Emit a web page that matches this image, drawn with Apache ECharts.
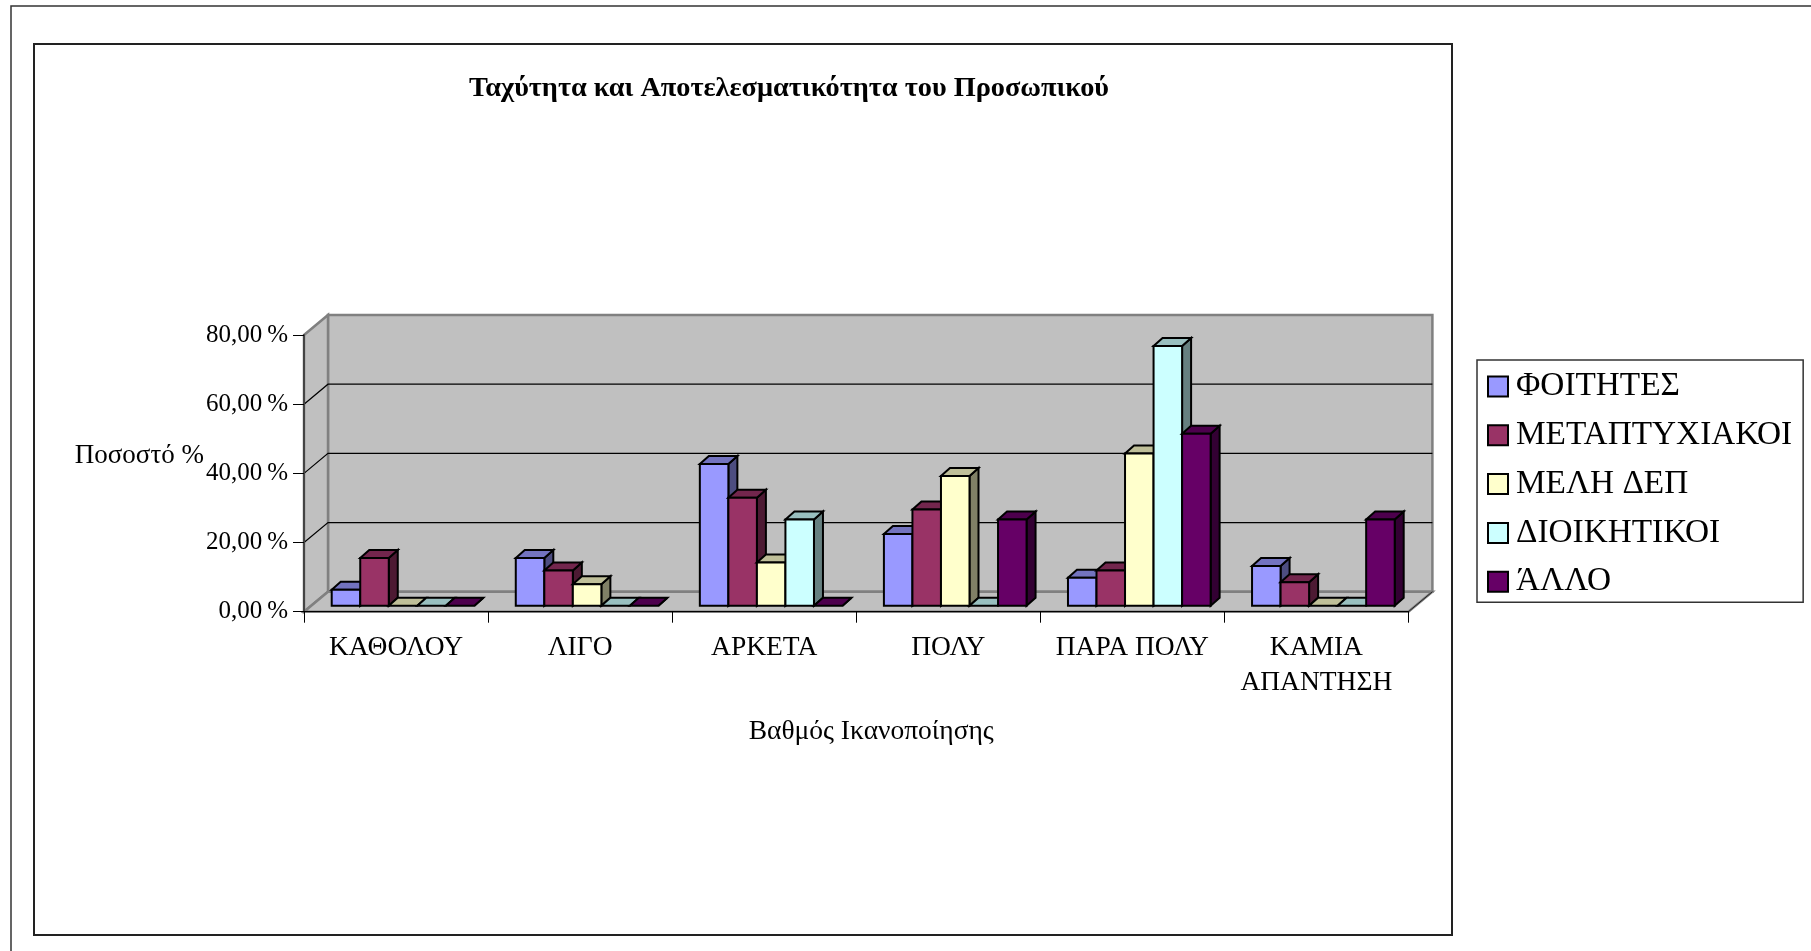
<!DOCTYPE html>
<html><head><meta charset="utf-8">
<style>html,body{margin:0;padding:0;background:#fff;overflow:hidden}#c{width:1811px;height:951px}</style>
<script src="https://cdn.jsdelivr.net/npm/echarts@6/dist/echarts.min.js"></script>
</head><body><div id="c"></div>
<script>
const chartTitle = 'Ταχύτητα και Αποτελεσματικότητα του Προσωπικού';
const yAxisTitle = 'Ποσοστό %';
const xAxisTitle = 'Βαθμός Ικανοποίησης';
const categories = ['ΚΑΘΟΛΟΥ','ΛΙΓΟ','ΑΡΚΕΤΑ','ΠΟΛΥ','ΠΑΡΑ ΠΟΛΥ','ΚΑΜΙΑ\nΑΠΑΝΤΗΣΗ'];
const yTicks = [0,20,40,60,80];
const yTickLabels = {0:'0,00\u2009%',20:'20,00\u2009%',40:'40,00\u2009%',60:'60,00\u2009%',80:'80,00\u2009%'};
const foitites = [4.6,13.8,41.0,20.7,8.1,11.5];
const metaptyxiakoi = [13.8,10.2,31.2,27.8,10.2,6.8];
const melhDep = [0,6.2,12.5,37.5,44.0,0];
const dioikitikoi = [0,0,24.9,0,75.1,0];
const allo = [0,0,0,24.9,49.7,24.9];
const seriesNames = ['ΦΟΙΤΗΤΕΣ','ΜΕΤΑΠΤΥΧΙΑΚΟΙ','ΜΕΛΗ ΔΕΠ','ΔΙΟΙΚΗΤΙΚΟΙ','ΆΛΛΟ'];
const seriesValues = [foitites,metaptyxiakoi,melhDep,dioikitikoi,allo];
const frontColors = ['#9999FF','#993366','#FFFFCC','#CCFFFF','#660066'];
const topColors = ['#7373BF','#73264D','#BFBF99','#99BFBF','#4D004D'];
const sideColors = ['#4D4D80','#4D1A33','#808066','#668080','#330033'];

const FONT = '"Liberation Serif", serif';
const DEPTH_X = 24, DEPTH_Y = 20;
const BAR_DEPTH_X = 9, BAR_DEPTH_Y = 8, BAR_FRONT_X = 7, BAR_FRONT_Y = 6, BAR_RATIO = 0.155;

function renderWall(params, api){
  const v = api.value(1);
  const a = api.coord([0, v]);
  const halfCat = api.size([1,0])[0] / 2;
  const left = a[0] - halfCat;
  const right = left + halfCat * 2 * categories.length;
  const children = [];
  const wallFill = '#C0C0C0', edge = '#808080';
  if (v === yTicks[0]) {
    const y0 = a[1];
    const yTop = api.coord([0, yTicks[yTicks.length-1]])[1];
    children.push({type:'polygon',shape:{points:[[left+DEPTH_X,yTop-DEPTH_Y],[right+DEPTH_X,yTop-DEPTH_Y],[right+DEPTH_X,y0-DEPTH_Y],[left+DEPTH_X,y0-DEPTH_Y]]},style:{fill:wallFill,stroke:edge,lineWidth:2.5}});
    children.push({type:'polygon',shape:{points:[[left,yTop],[left+DEPTH_X,yTop-DEPTH_Y],[left+DEPTH_X,y0-DEPTH_Y],[left,y0]]},style:{fill:wallFill,stroke:edge,lineWidth:2.5}});
    children.push({type:'polygon',shape:{points:[[left,y0],[left+DEPTH_X,y0-DEPTH_Y],[right+DEPTH_X,y0-DEPTH_Y],[right,y0]]},style:{fill:wallFill,stroke:edge,lineWidth:2.5}});
    children.push({type:'line',shape:{x1:right,y1:y0,x2:right+DEPTH_X,y2:y0-DEPTH_Y},style:{stroke:'#222',lineWidth:1}});
  } else if (v !== yTicks[yTicks.length-1]) {
    children.push({type:'polyline',shape:{points:[[left,a[1]],[left+DEPTH_X,a[1]-DEPTH_Y],[right+DEPTH_X,a[1]-DEPTH_Y]]},style:{stroke:'#000',lineWidth:1.2,fill:null}});
  }
  return {type:'group',children};
}

function barRenderer(si){
  return function(params, api){
    const cat = api.value(0), val = api.value(1);
    const base = api.coord([cat, 0]);
    const topPt = api.coord([cat, val]);
    const w = api.size([1,0])[0] * BAR_RATIO;
    const x0 = base[0] + BAR_FRONT_X - w * seriesNames.length / 2 + si * w;
    const x1 = x0 + w;
    const yb = base[1] - BAR_FRONT_Y;
    const yt = topPt[1] - BAR_FRONT_Y;
    const dx = BAR_DEPTH_X, dy = BAR_DEPTH_Y;
    const st = {stroke:'#000',lineWidth:2,lineJoin:'miter'};
    const kids = [];
    kids.push({type:'polygon',shape:{points:[[x1,yb],[x1+dx,yb-dy],[x1+dx,yt-dy],[x1,yt]]},style:Object.assign({fill:sideColors[si]},st)});
    kids.push({type:'polygon',shape:{points:[[x0,yt],[x0+dx,yt-dy],[x1+dx,yt-dy],[x1,yt]]},style:Object.assign({fill:topColors[si]},st)});
    if (val > 0) kids.push({type:'rect',shape:{x:x0,y:yt,width:w,height:yb-yt},style:Object.assign({fill:frontColors[si]},st)});
    return {type:'group',children:kids};
  };
}

const series = [{
  type:'custom', name:'__walls', z:-1, silent:true, clip:false,
  coordinateSystem:'cartesian2d', renderItem:renderWall,
  encode:{x:0,y:1}, data:yTicks.map(v=>[0,v]), tooltip:{show:false}
}];
seriesNames.forEach((name,si)=>{
  series.push({
    type:'custom', name, z:3, clip:false, coordinateSystem:'cartesian2d',
    renderItem:barRenderer(si), encode:{x:0,y:1},
    itemStyle:{color:frontColors[si],borderColor:'#000',borderWidth:2},
    data:seriesValues[si].map((v,i)=>[i,v])
  });
});

const chart = echarts.init(document.getElementById('c'), null, {renderer:'canvas'});
chart.setOption({
  animation:false,
  backgroundColor:'#fff',
  title:{text:chartTitle,left:784,top:70,textAlign:'center',textStyle:{fontFamily:FONT,fontSize:28.3,fontWeight:'bold',color:'#000'}},
  legend:{
    data:seriesNames, orient:'vertical', left:1477, top:360,
    padding:[10,11,4,10], itemWidth:20, itemHeight:20, itemGap:15.8,
    icon:'rect', backgroundColor:'#fff', borderColor:'#333', borderWidth:1.5,
    textStyle:{fontFamily:FONT,fontSize:33.3,color:'#000',padding:[0,0,0,3]}
  },
  grid:{left:304,top:335,width:1104.4,height:276.7,containLabel:false},
  xAxis:{
    type:'category', data:categories, z:2,
    name:xAxisTitle, nameLocation:'middle', nameGap:106, nameMoveOverlap:false,
    nameTextStyle:{fontFamily:FONT,fontSize:27.5,color:'#000',padding:[0,0,0,30]},
    axisLine:{show:true,lineStyle:{color:'#000',width:1.2}},
    axisTick:{show:true,length:11,lineStyle:{color:'#000',width:1}},
    axisLabel:{interval:0,margin:19,fontFamily:FONT,fontSize:27.5,color:'#000',lineHeight:35,hideOverlap:false},
    splitLine:{show:false}
  },
  yAxis:{
    type:'value', min:0, max:80, interval:20, z:2,
    name:yAxisTitle, nameLocation:'middle', nameGap:100, nameRotate:0, nameMoveOverlap:false,
    nameTextStyle:{fontFamily:FONT,fontSize:27,color:'#000',verticalAlign:'bottom',padding:[0,0,4,0]},
    axisLine:{show:true,lineStyle:{color:'#444',width:2}},
    axisTick:{show:true,length:11,lineStyle:{color:'#000',width:1}},
    axisLabel:{margin:16,fontFamily:FONT,fontSize:25,color:'#000',formatter:v=>yTickLabels[v]},
    splitLine:{show:false}
  },
  graphic:[
    {type:'rect',silent:true,z:-10,shape:{x:11,y:6,width:1900,height:1100},style:{fill:null,stroke:'#333',lineWidth:1.5}},
    {type:'rect',silent:true,z:-10,shape:{x:34,y:44,width:1418,height:891},style:{fill:null,stroke:'#222',lineWidth:2}}
  ],
  series
});
</script></body></html>
